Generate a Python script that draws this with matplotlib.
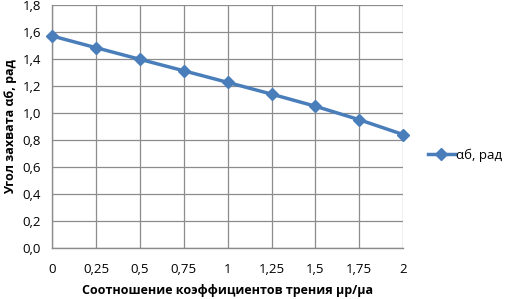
import numpy as np
import matplotlib.pyplot as plt

# data
ratio = [0, 0.25, 0.5, 0.75, 1, 1.25, 1.5, 1.75, 2]
ratio_labels = ["0", "0,25", "0,5", "0,75", "1", "1,25", "1,5", "1,75", "2"]
angle = [1.571, 1.484, 1.398, 1.313, 1.227, 1.140, 1.050, 0.950, 0.840]
y_ticks = [0.0, 0.2, 0.4, 0.6, 0.8, 1.0, 1.2, 1.4, 1.6, 1.8]

plt.rcParams['font.family'] = ['Open Sans', 'DejaVu Sans']

fig = plt.figure(figsize=(5.11, 2.99), dpi=100)
ax = fig.add_axes([0.102, 0.171, 0.687, 0.812])

ax.plot(ratio, angle, color="#4a7ebb", lw=2.5, marker="D", ms=6,
        label="αб, рад", clip_on=False, zorder=3)

ax.set_xlim(0, 2)
ax.set_ylim(0, 1.8)
ax.set_xticks(ratio)
ax.set_xticklabels(ratio_labels)
ax.set_yticks(y_ticks)
ax.set_yticklabels([f"{v:.1f}".replace(".", ",") for v in y_ticks])
ax.tick_params(axis="both", length=0, labelsize=9.5)
ax.tick_params(axis="x", pad=11)
ax.tick_params(axis="y", pad=8)

ax.grid(True, color="#8c8c8c", lw=0.9)
for s in ["top", "right"]:
    ax.spines[s].set_visible(False)
for s in ["left", "bottom"]:
    ax.spines[s].set_color("#8c8c8c")
    ax.spines[s].set_linewidth(1.0)

ax.set_xlabel("Соотношение коэффициентов трения μр/μа", fontsize=9,
              fontweight="bold", labelpad=6)
ax.set_ylabel("Угол захвата αб, рад", fontsize=9, fontweight="bold", labelpad=4)

fig.legend(*ax.get_legend_handles_labels(), loc="center left",
           bbox_to_anchor=(0.838, 0.482), frameon=False, fontsize=9.5,
           handlelength=2.0, handletextpad=0.1, borderaxespad=0, borderpad=0)

fig.savefig("out.png", dpi=100)
